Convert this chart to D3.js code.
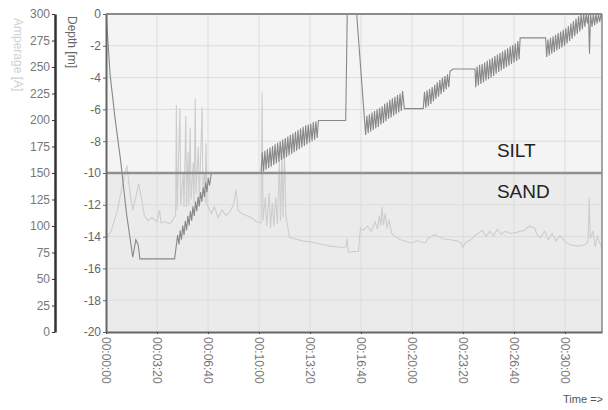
<!DOCTYPE html>
<html>
<head>
<meta charset="UTF-8">
<script src="https://d3js.org/d3.v7.min.js"></script>
<style>
  body { margin: 0; background: #fff; }
  svg text { font-family: "Liberation Sans", Arial, sans-serif; }
</style>
</head>
<body>
<div id="chart"></div>
<script>
// depth of the tool [seconds, m]
const depthData = [
  [0,0],[4,-0.8],[16,-3.8],[35,-6.5],[58,-9.3],[80,-12.5],[105,-15.3],[117,-14.2],[126,-14.5],[133,-15.4],
  [269,-15.4],[281,-13.9],[286,-14.5],[291,-13.6],[296,-14.2],[301,-13.3],[306,-13.9],[311,-13.0],[316,-13.6],
  [321,-12.7],[326,-13.3],[331,-12.4],[336,-13.0],[341,-12.1],[346,-12.7],[351,-11.8],[356,-12.4],[361,-11.5],
  [366,-12.1],[371,-11.2],[376,-11.8],[381,-10.9],[386,-11.5],[391,-10.6],[396,-11.2],[401,-10.3],[406,-10.8],[413,-10.0],
  [608,-10.0],[613,-8.7],[618,-9.9],[623,-8.6],[628,-9.8],[633,-8.5],[638,-9.7],[643,-8.4],[648,-9.6],[653,-8.3],
  [658,-9.5],[663,-8.2],[668,-9.4],[673,-8.1],[678,-9.3],[683,-8.0],[688,-9.2],[693,-7.9],[698,-9.1],[703,-7.8],
  [708,-9.0],[713,-7.7],[718,-8.9],[723,-7.6],[728,-8.8],[733,-7.5],[738,-8.7],[743,-7.4],[748,-8.6],[753,-7.3],
  [758,-8.5],[763,-7.2],[768,-8.4],[773,-7.1],[778,-8.3],[783,-7.0],[788,-8.2],[793,-6.95],[798,-8.1],[803,-6.9],
  [808,-8.0],[813,-6.8],[818,-7.9],[823,-6.75],[828,-7.8],[833,-6.7],[842,-6.7],
  [940,-6.7],[946,0],[983,0],[1018,-7.6],
  [1023,-6.4],[1028,-7.5],[1033,-6.3],[1038,-7.4],[1043,-6.2],[1048,-7.3],[1053,-6.1],[1058,-7.2],[1063,-6.0],
  [1068,-7.1],[1073,-5.9],[1078,-6.95],[1083,-5.8],[1088,-6.85],[1093,-5.65],[1098,-6.75],[1103,-5.55],[1108,-6.6],
  [1113,-5.4],[1118,-6.5],[1123,-5.3],[1128,-6.4],[1133,-5.2],[1138,-6.3],[1143,-5.1],[1148,-6.2],[1153,-5.0],
  [1158,-6.1],[1163,-4.85],[1170,-5.95],
  [1244,-5.95],[1249,-4.9],[1254,-5.9],[1259,-4.8],[1264,-5.8],[1269,-4.7],[1274,-5.65],[1279,-4.6],[1284,-5.5],
  [1289,-4.45],[1294,-5.35],[1299,-4.3],[1304,-5.2],[1309,-4.15],[1314,-5.05],[1319,-4.0],[1324,-4.9],[1329,-3.9],
  [1334,-4.75],[1339,-3.8],[1344,-4.6],[1349,-3.6],[1361,-3.46],
  [1447,-3.46],[1450,-4.6],[1455,-3.3],[1460,-4.5],[1465,-3.2],[1470,-4.4],[1475,-3.15],[1480,-4.3],[1485,-3.05],
  [1490,-4.2],[1495,-2.95],[1500,-4.1],[1505,-2.85],[1510,-4.0],[1515,-2.75],[1520,-3.9],[1525,-2.65],[1530,-3.75],
  [1535,-2.55],[1540,-3.65],[1545,-2.45],[1550,-3.55],[1555,-2.35],[1560,-3.45],[1565,-2.25],[1570,-3.35],
  [1575,-2.15],[1580,-3.25],[1585,-2.05],[1590,-3.15],[1595,-1.95],[1600,-3.05],[1605,-1.85],[1610,-2.95],
  [1615,-1.7],[1620,-2.85],[1624,-1.5],
  [1724,-1.5],[1728,-2.7],[1733,-1.6],[1738,-2.6],[1743,-1.5],[1748,-2.5],[1753,-1.4],[1758,-2.4],[1763,-1.3],
  [1768,-2.3],[1773,-1.2],[1778,-2.2],[1783,-1.1],[1788,-2.1],[1793,-1.0],[1798,-2.0],[1803,-0.9],[1808,-1.85],
  [1813,-0.75],[1818,-1.7],[1823,-0.6],[1828,-1.55],[1833,-0.45],[1838,-1.4],[1843,-0.3],[1848,-1.25],[1853,-0.15],
  [1858,-1.1],[1863,0],[1868,-0.95],[1873,0],[1878,-0.8],[1883,0],[1888,-0.6],[1892,0],[1896,-2.5],[1900,0],
  [1906,-0.8],[1911,0],[1916,-0.7],[1921,0],[1926,-0.6],[1931,0],[1936,-0.5],[1941,0],[1945,-0.3]
];

// amperage [seconds, A]
const ampData = [
  [0,88],[20,95],[45,115],[70,145],[82,157],[95,130],[105,115],[115,125],[128,140],[140,125],[150,110],
  [165,105],[180,108],[200,104],[210,115],[216,103],[230,104],[250,102],[260,105],[273,110],
  [276,214],[279,115],[290,211],[293,120],[303,150],[306,118],[313,204],[316,118],[322,170],[325,120],
  [330,193],[334,125],[342,160],[345,122],[350,220],[353,130],[362,175],[366,125],[377,212],[380,135],
  [386,150],[389,122],[392,178],[396,120],
  [413,112],[425,118],[440,108],[455,115],[470,110],[485,113],[500,120],[510,134],[518,115],[530,112],
  [550,110],[570,108],[590,104],[608,103],
  [612,226],[616,105],[625,127],[630,100],[640,131],[645,98],[652,122],[658,100],[665,127],[672,102],
  [680,162],[684,105],[690,167],[694,108],[700,170],[705,110],[712,100],[720,89],[740,88],[770,86],
  [800,85],[840,83],[880,81],[920,80],[940,80],[946,88],[950,75],[970,76],[990,76],
  [998,98],[1010,96],[1025,100],[1040,95],[1055,104],[1065,97],[1072,110],[1078,100],[1082,118],[1088,101],
  [1095,112],[1102,98],[1110,106],[1120,93],[1135,90],[1154,87],[1170,86],[1197,84],[1220,86],[1252,84],
  [1262,88],[1275,90],[1290,92],[1303,90],[1320,88],[1350,87],[1375,86],[1392,84],[1400,80],[1408,84],
  [1430,87],[1447,91],[1459,93],[1475,96],[1490,90],[1505,95],[1520,91],[1535,97],[1550,92],[1565,95],
  [1587,93],[1610,94],[1640,96],[1660,100],[1681,98],[1690,92],[1704,89],[1720,95],[1735,87],[1750,93],
  [1765,86],[1780,91],[1798,86],[1821,82],[1850,81],[1876,82],[1890,85],[1895,127],[1899,88],[1910,95],
  [1918,80],[1926,90],[1945,79]
];

const timeTicks = [0,200,400,600,800,1000,1200,1400,1600,1800];
const depthTicks = [0,-2,-4,-6,-8,-10,-12,-14,-16,-18,-20];
const ampTicks = [0,25,50,75,100,125,150,175,200,225,250,275,300];
const layerBoundary = -10;
const layerNames = ["SILT","SAND"];

const W = 608, H = 410;
const pLeft = 106, pRight = 602, pTop = 14, pBottom = 332;

const svg = d3.select("#chart").append("svg")
  .attr("width", W).attr("height", H);

const x = d3.scaleLinear().domain([0,1945]).range([pLeft, pRight]);
const y = d3.scaleLinear().domain([-20,0]).range([pBottom, pTop]);
const ya = d3.scaleLinear().domain([0,300]).range([pBottom, pTop]);

// backgrounds for the two layers
svg.append("rect").attr("x", pLeft).attr("y", pTop)
  .attr("width", pRight-pLeft).attr("height", y(layerBoundary)-pTop)
  .attr("fill", "#f4f4f4");
svg.append("rect").attr("x", pLeft).attr("y", y(layerBoundary))
  .attr("width", pRight-pLeft).attr("height", pBottom-y(layerBoundary))
  .attr("fill", "#ebebeb");

// grid
svg.append("g").selectAll("line").data(timeTicks.slice(1)).enter().append("line")
  .attr("x1", d => x(d)).attr("x2", d => x(d))
  .attr("y1", pTop).attr("y2", pBottom)
  .attr("stroke", "#dcdcdc").attr("stroke-width", 1);
svg.append("g").selectAll("line").data(depthTicks.slice(1,-1)).enter().append("line")
  .attr("x1", pLeft).attr("x2", pRight)
  .attr("y1", d => y(d)).attr("y2", d => y(d))
  .attr("stroke", "#dcdcdc").attr("stroke-width", 1);

svg.append("clipPath").attr("id", "clip").append("rect")
  .attr("x", pLeft).attr("y", pTop).attr("width", pRight-pLeft).attr("height", pBottom-pTop);

const plot = svg.append("g").attr("clip-path", "url(#clip)");

plot.append("path").datum(ampData)
  .attr("d", d3.line().x(d => x(d[0])).y(d => ya(d[1])))
  .attr("fill", "none").attr("stroke", "#cdcdcd").attr("stroke-width", 1.1);

plot.append("path").datum(depthData)
  .attr("d", d3.line().x(d => x(d[0])).y(d => y(d[1])))
  .attr("fill", "none").attr("stroke", "#888").attr("stroke-width", 1.1);

// layer boundary
svg.append("line").attr("x1", pLeft).attr("x2", pRight)
  .attr("y1", y(layerBoundary)).attr("y2", y(layerBoundary))
  .attr("stroke", "#909090").attr("stroke-width", 2.5);

svg.append("text").attr("x", x(1533)).attr("y", y(-9.0))
  .attr("font-size", 19).attr("fill", "#222").text(layerNames[0]);
svg.append("text").attr("x", x(1533)).attr("y", y(-11.6))
  .attr("font-size", 19).attr("fill", "#222").text(layerNames[1]);

// frame
svg.append("line").attr("x1", pLeft).attr("x2", pRight).attr("y1", pTop).attr("y2", pTop)
  .attr("stroke", "#8a8a8a").attr("stroke-width", 2);
svg.append("line").attr("x1", pRight).attr("x2", pRight).attr("y1", pTop).attr("y2", pBottom)
  .attr("stroke", "#888").attr("stroke-width", 1.5);

// depth axis
const yAxis = svg.append("g").attr("transform", `translate(${pLeft},0)`)
  .call(d3.axisLeft(y).tickValues(depthTicks).tickFormat(d => String(d)).tickSize(3).tickSizeOuter(0));
yAxis.select(".domain").attr("stroke", "#666").attr("stroke-width", 2);
yAxis.selectAll(".tick line").attr("stroke", "#666");
yAxis.selectAll("text").attr("font-size", 12).attr("fill", "#666").attr("dx", 1);

// amperage axis
const aAxis = svg.append("g").attr("transform", "translate(55,0)")
  .call(d3.axisLeft(ya).tickValues(ampTicks).tickSize(3).tickSizeOuter(0));
aAxis.select(".domain").attr("stroke", "#333").attr("stroke-width", 2.5);
aAxis.selectAll(".tick line").attr("stroke", "#333");
aAxis.selectAll("text").attr("font-size", 12).attr("fill", "#777").attr("dx", 1);

// time axis
const fmt = s => {
  const p = n => String(n).padStart(2, "0");
  return p(Math.floor(s/3600)) + ":" + p(Math.floor(s/60)%60) + ":" + p(s%60);
};
const xAxis = svg.append("g").attr("transform", `translate(0,${pBottom})`)
  .call(d3.axisBottom(x).tickValues(timeTicks).tickFormat(fmt).tickSize(2).tickSizeOuter(0));
xAxis.select(".domain").attr("stroke", "#666").attr("stroke-width", 2);
xAxis.selectAll(".tick line").attr("stroke", "#444");
xAxis.selectAll("text")
  .attr("font-size", 12).attr("fill", "#777")
  .attr("transform", "rotate(90)")
  .attr("text-anchor", "start")
  .attr("x", 5).attr("y", 0).attr("dy", "0.35em");

// titles
svg.append("text").attr("transform", "translate(14,18) rotate(90)")
  .attr("font-size", 12).attr("fill", "#d0d0d0").text("Amperage [A]");
svg.append("text").attr("transform", "translate(68,16) rotate(90)")
  .attr("font-size", 12).attr("fill", "#666").text("Depth [m]");
svg.append("text").attr("x", 603).attr("y", 403).attr("text-anchor", "end")
  .attr("font-size", 11).attr("fill", "#555").text("Time =>");
</script>
</body>
</html>
